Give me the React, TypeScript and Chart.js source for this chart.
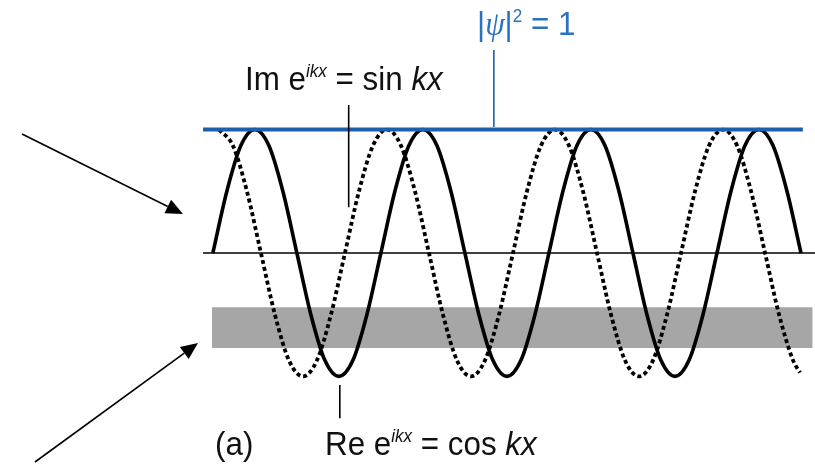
import { useEffect, useRef } from "react";
import { Chart, registerables } from "chart.js";

Chart.register(...registerables);

const W = 815;
const H = 464;

// Phase kx in degrees; solid curve = Re e^{ikx}, dotted = Im e^{ikx}
const kxSolid = [
  -90, -60, -30, 0, 30, 60, 90, 120, 150, 180, 210, 240,
  270, 300, 330, 360, 390, 420, 450, 480, 510, 540, 570, 600,
  630, 660, 690, 720, 750, 780, 810, 840, 870, 900, 930, 960,
  990, 1020, 1050, 1080, 1110, 1140, 1170,
];
const solidValues = [
  0, 0.5, 0.87, 1, 0.87, 0.5, 0, -0.5, -0.87, -1, -0.87, -0.5,
  0, 0.5, 0.87, 1, 0.87, 0.5, 0, -0.5, -0.87, -1, -0.87, -0.5,
  0, 0.5, 0.87, 1, 0.87, 0.5, 0, -0.5, -0.87, -1, -0.87, -0.5,
  0, 0.5, 0.87, 1, 0.87, 0.5, 0,
];

const kxDotted = [
  -77, -47, -17, 13, 43, 73, 103, 133, 163, 193, 223, 253,
  283, 313, 343, 373, 403, 433, 463, 493, 523, 553, 583, 613,
  643, 673, 703, 733, 763, 793, 823, 853, 883, 913, 943, 973,
  1003, 1033, 1063, 1093, 1123, 1153, 1168,
];
const dottedValues = [
  1, 0.87, 0.5, 0, -0.5, -0.87, -1, -0.87, -0.5, 0, 0.5, 0.87,
  1, 0.87, 0.5, 0, -0.5, -0.87, -1, -0.87, -0.5, 0, 0.5, 0.87,
  1, 0.87, 0.5, 0, -0.5, -0.87, -1, -0.87, -0.5, 0, 0.5, 0.87,
  1, 0.87, 0.5, 0, -0.5, -0.87, -0.97,
];

// |psi|^2 = 1 line
const psiKx = [-111, 1174];
const psiValues = [1, 1];

// zero axis
const axisKx = [-111, 1200];
const axisValues = [0, 0];

// grey band
const bandKx = [-92, 1195];
const bandTop = [-0.44, -0.44];
const bandBottom = [-0.77, -0.77];

const X_MIN = -546;
const X_MAX = 1200;
const Y_MIN = -1.71;
const Y_MAX = 2.05;

const BLUE = "#1b5fad";
const BLUE_TEXT = "#2a72bd";

const pts = (xs: number[], ys: number[]) => xs.map((x, i) => ({ x, y: ys[i] }));

type Seg = { t: string; it?: boolean; sup?: boolean; serif?: boolean };

const FS = 33;
const SUP = 18;
const SQUEEZE = 0.95;

function drawRich(ctx: CanvasRenderingContext2D, x: number, y: number, segs: Seg[], color: string) {
  ctx.save();
  ctx.translate(x, y);
  ctx.scale(SQUEEZE, 1);
  ctx.fillStyle = color;
  ctx.textBaseline = "alphabetic";
  ctx.textAlign = "left";
  let cx = 0;
  for (const s of segs) {
    const size = s.sup ? SUP : FS;
    const fam = s.serif ? '"Liberation Serif"' : '"Liberation Sans"';
    ctx.font = `${s.it ? "italic " : ""}${size}px ${fam}`;
    const yy = s.sup ? -13 : 0;
    ctx.fillText(s.t, cx, yy);
    cx += ctx.measureText(s.t).width;
  }
  ctx.restore();
}

function arrow(ctx: CanvasRenderingContext2D, x0: number, y0: number, x1: number, y1: number) {
  const ang = Math.atan2(y1 - y0, x1 - x0);
  const len = 17;
  const half = 7.5;
  const bx = x1 - len * Math.cos(ang);
  const by = y1 - len * Math.sin(ang);
  ctx.save();
  ctx.strokeStyle = "#000";
  ctx.fillStyle = "#000";
  ctx.lineWidth = 1.6;
  ctx.beginPath();
  ctx.moveTo(x0, y0);
  ctx.lineTo(bx, by);
  ctx.stroke();
  ctx.beginPath();
  ctx.moveTo(x1, y1);
  ctx.lineTo(bx + half * Math.sin(ang), by - half * Math.cos(ang));
  ctx.lineTo(bx - half * Math.sin(ang), by + half * Math.cos(ang));
  ctx.closePath();
  ctx.fill();
  ctx.restore();
}

const annotations = {
  id: "annotations",
  afterDraw(chart: any) {
    const ctx: CanvasRenderingContext2D = chart.ctx;
    const xs = chart.scales.x;
    const ys = chart.scales.y;
    const px = (v: number) => xs.getPixelForValue(v);
    const py = (v: number) => ys.getPixelForValue(v);

    // pointer lines
    ctx.save();
    ctx.lineWidth = 1.6;
    ctx.strokeStyle = "#000";
    ctx.beginPath();
    ctx.moveTo(px(201), py(1.2));
    ctx.lineTo(px(201), py(0.37));
    ctx.moveTo(px(182), py(-1.07));
    ctx.lineTo(px(182), py(-1.34));
    ctx.stroke();
    ctx.strokeStyle = BLUE;
    ctx.beginPath();
    ctx.moveTo(px(512), py(1.645));
    ctx.lineTo(px(512), py(1.02));
    ctx.stroke();
    ctx.restore();

    // labels
    drawRich(ctx, 245, 90, [
      { t: "Im e" },
      { t: "ikx", it: true, sup: true },
      { t: " = sin " },
      { t: "kx", it: true },
    ], "#111");
    drawRich(ctx, 477, 35, [
      { t: "|" },
      { t: "ψ", it: true, serif: true },
      { t: "|" },
      { t: "2", sup: true },
      { t: " = 1" },
    ], BLUE_TEXT);
    drawRich(ctx, 215, 455, [{ t: "(a)" }], "#111");
    drawRich(ctx, 325, 455, [
      { t: "Re e" },
      { t: "ikx", it: true, sup: true },
      { t: " = cos " },
      { t: "kx", it: true },
    ], "#111");

    // arrows
    arrow(ctx, 22, 134, 183, 214);
    arrow(ctx, 35, 462, 198, 343);
  },
};

export default function App() {
  const ref = useRef<HTMLCanvasElement>(null);
  useEffect(() => {
    const chart = new Chart(ref.current!, {
      type: "line",
      data: {
        datasets: [
          {
            label: "|ψ|² = 1",
            data: pts(psiKx, psiValues),
            borderColor: BLUE,
            borderWidth: 4,
            pointRadius: 0,
            order: 0,
          },
          {
            label: "Re e^ikx = cos kx",
            data: pts(kxSolid, solidValues),
            borderColor: "#000",
            borderWidth: 3.6,
            pointRadius: 0,
            cubicInterpolationMode: "monotone",
            order: 1,
          },
          {
            label: "Im e^ikx = sin kx",
            data: pts(kxDotted, dottedValues),
            borderColor: "#000",
            borderWidth: 3.8,
            borderDash: [4, 3],
            borderCapStyle: "butt",
            pointRadius: 0,
            cubicInterpolationMode: "monotone",
            order: 2,
          },
          {
            label: "axis",
            data: pts(axisKx, axisValues),
            borderColor: "#000",
            borderWidth: 1.6,
            pointRadius: 0,
            order: 3,
          },
          {
            label: "band",
            data: pts(bandKx, bandTop),
            borderWidth: 0,
            borderColor: "rgba(0,0,0,0)",
            backgroundColor: "#a6a6a6",
            pointRadius: 0,
            fill: "+1",
            order: 4,
          },
          {
            label: "band bottom",
            data: pts(bandKx, bandBottom),
            borderWidth: 0,
            borderColor: "rgba(0,0,0,0)",
            pointRadius: 0,
            fill: false,
            order: 5,
          },
        ],
      },
      options: {
        animation: false,
        responsive: false,
        devicePixelRatio: 1,
        layout: { padding: 0 },
        plugins: {
          legend: { display: false },
          tooltip: { enabled: false },
        },
        scales: {
          x: { type: "linear", min: X_MIN, max: X_MAX, display: false },
          y: { type: "linear", min: Y_MIN, max: Y_MAX, display: false },
        },
      },
      plugins: [annotations],
    } as any);
    return () => chart.destroy();
  }, []);
  return (
    <div style={{ position: "fixed", left: 0, top: 0, width: W, height: H, background: "#fff" }}>
      <canvas ref={ref} width={W} height={H} style={{ width: W, height: H, display: "block" }} />
    </div>
  );
}
